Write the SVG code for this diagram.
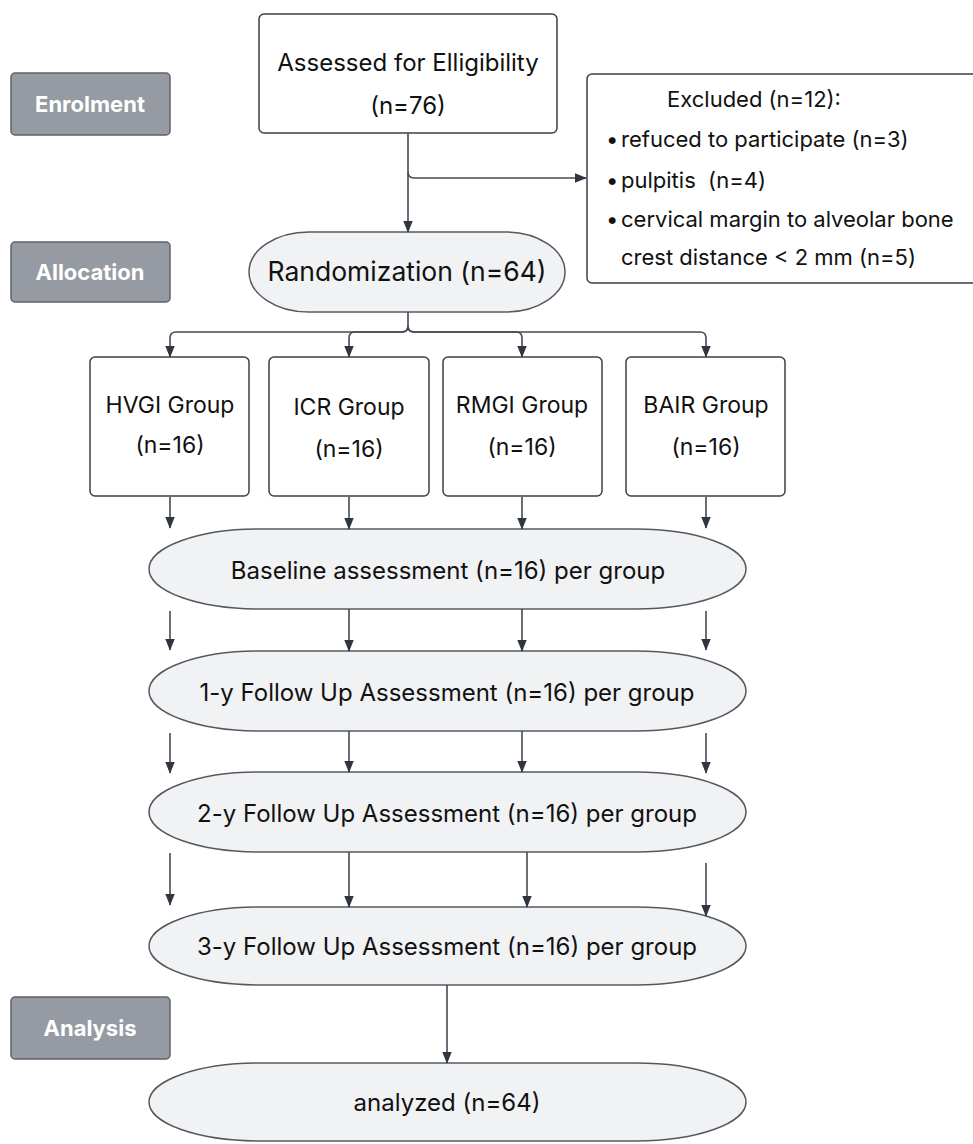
<svg xmlns="http://www.w3.org/2000/svg" width="973" height="1144" viewBox="0 0 973 1144">
<defs>
<marker id="ah" markerUnits="userSpaceOnUse" markerWidth="12" markerHeight="16" refX="14" refY="6" orient="auto" viewBox="0 0 15 12">
<path d="M0,0 L15,6 L0,12 Z" fill="#2f3640"/>
</marker>
<style>
.t{font-family:Inter,"Liberation Sans",sans-serif;fill:#111111;}
.lab rect{fill:#969ba3;stroke:#5d6269;stroke-width:1.5;}
.lab text{font-family:Inter,"Liberation Sans",sans-serif;font-weight:700;fill:#ffffff;font-size:22px;}
.box{fill:#ffffff;stroke:#3d3f43;stroke-width:1.5;}
.pill{fill:#f1f2f4;stroke:#55595f;stroke-width:1.5;}
.c{fill:none;stroke:#454a52;stroke-width:1.6;}
</style>
</defs>
<rect width="973" height="1144" fill="#ffffff"/>

<g id="label-enrolment" class="lab"><rect x="11" y="73" width="159" height="62" rx="4"/><text x="90" y="112" text-anchor="middle">Enrolment</text></g>
<g id="label-allocation" class="lab"><rect x="11" y="242" width="159" height="60" rx="4"/><text x="90" y="280" text-anchor="middle">Allocation</text></g>
<g id="label-analysis" class="lab"><rect x="11" y="997" width="159" height="62" rx="4"/><text x="90" y="1036" text-anchor="middle">Analysis</text></g>

<g id="assessed"><rect class="box" x="259" y="14" width="298" height="119" rx="5"/>
<text class="t" x="408" y="71" text-anchor="middle" font-size="24">Assessed for Elligibility</text>
<text class="t" x="408" y="114" text-anchor="middle" font-size="24">(n=76)</text></g>

<g id="excluded"><rect class="box" x="587" y="74" width="400" height="209" rx="5"/>
<text class="t" x="667" y="107" font-size="22">Excluded (n=12):</text>
<text class="t" y="147" font-size="22"><tspan x="606">•</tspan><tspan x="621">refuced to participate (n=3)</tspan></text>
<text class="t" y="188" font-size="22"><tspan x="606">•</tspan><tspan x="621">pulpitis&#160; (n=4)</tspan></text>
<text class="t" y="227" font-size="22"><tspan x="606">•</tspan><tspan x="621">cervical margin to alveolar bone</tspan></text>
<text class="t" x="621" y="265" font-size="22">crest distance &lt; 2 mm (n=5)</text></g>

<g id="randomization"><rect class="pill" x="249" y="232" width="316" height="80" rx="60" ry="40"/>
<text class="t" x="407" y="281" text-anchor="middle" font-size="26.5">Randomization (n=64)</text></g>

<g id="hvgi"><rect class="box" x="90" y="357" width="159" height="139" rx="5"/>
<text class="t" x="170" y="413" text-anchor="middle" font-size="23">HVGI Group</text>
<text class="t" x="170" y="453" text-anchor="middle" font-size="23">(n=16)</text></g>
<g id="icr"><rect class="box" x="269" y="357" width="160" height="139" rx="5"/>
<text class="t" x="349" y="415" text-anchor="middle" font-size="23">ICR Group</text>
<text class="t" x="349" y="457" text-anchor="middle" font-size="23">(n=16)</text></g>
<g id="rmgi"><rect class="box" x="443" y="357" width="159" height="139" rx="5"/>
<text class="t" x="522" y="413" text-anchor="middle" font-size="23">RMGI Group</text>
<text class="t" x="522" y="455" text-anchor="middle" font-size="23">(n=16)</text></g>
<g id="bair"><rect class="box" x="626" y="357" width="159" height="139" rx="5"/>
<text class="t" x="706" y="413" text-anchor="middle" font-size="23">BAIR Group</text>
<text class="t" x="706" y="455" text-anchor="middle" font-size="23">(n=16)</text></g>

<g id="baseline"><rect class="pill" x="149" y="529" width="597" height="80" rx="110" ry="40"/>
<text class="t" x="448" y="579" text-anchor="middle" font-size="24">Baseline assessment (n=16) per group</text></g>
<g id="fu1"><rect class="pill" x="149" y="651" width="597" height="80" rx="110" ry="40"/>
<text class="t" x="447" y="701" text-anchor="middle" font-size="24">1-y Follow Up Assessment (n=16) per group</text></g>
<g id="fu2"><rect class="pill" x="149" y="772" width="597" height="80" rx="110" ry="40"/>
<text class="t" x="447" y="822" text-anchor="middle" font-size="24">2-y Follow Up Assessment (n=16) per group</text></g>
<g id="fu3"><rect class="pill" x="149" y="907" width="597" height="78" rx="110" ry="39"/>
<text class="t" x="447" y="955" text-anchor="middle" font-size="24">3-y Follow Up Assessment (n=16) per group</text></g>
<g id="analyzed"><rect class="pill" x="149" y="1063" width="597" height="78" rx="110" ry="39"/>
<text class="t" x="447" y="1111" text-anchor="middle" font-size="24">analyzed (n=64)</text></g>

<g id="connectors" class="c">
<path class="c" d="M408,133 V232" marker-end="url(#ah)"/>
<path class="c" d="M408,172 Q408,178 414,178 H586" marker-end="url(#ah)"/>
<path class="c" d="M408,312 V326 Q408,332 402,332 H176 Q170,332 170,338 V357" marker-end="url(#ah)"/>
<path class="c" d="M408,326 Q408,332 402,332 H355 Q349,332 349,338 V357" marker-end="url(#ah)"/>
<path class="c" d="M408,326 Q408,332 414,332 H516 Q522,332 522,338 V357" marker-end="url(#ah)"/>
<path class="c" d="M408,326 Q408,332 414,332 H700 Q706,332 706,338 V357" marker-end="url(#ah)"/>
<path class="c" d="M170,497 V528" marker-end="url(#ah)"/>
<path class="c" d="M349,497 V529" marker-end="url(#ah)"/>
<path class="c" d="M522,497 V529" marker-end="url(#ah)"/>
<path class="c" d="M706,497 V528" marker-end="url(#ah)"/>
<path class="c" d="M170,611 V650" marker-end="url(#ah)"/>
<path class="c" d="M349,609 V651" marker-end="url(#ah)"/>
<path class="c" d="M522,609 V651" marker-end="url(#ah)"/>
<path class="c" d="M706,611 V650" marker-end="url(#ah)"/>
<path class="c" d="M170,733 V773" marker-end="url(#ah)"/>
<path class="c" d="M349,731 V772" marker-end="url(#ah)"/>
<path class="c" d="M522,731 V772" marker-end="url(#ah)"/>
<path class="c" d="M706,733 V773" marker-end="url(#ah)"/>
<path class="c" d="M170,853 V905" marker-end="url(#ah)"/>
<path class="c" d="M349,852 V907" marker-end="url(#ah)"/>
<path class="c" d="M527,852 V907" marker-end="url(#ah)"/>
<path class="c" d="M706,863 V916" marker-end="url(#ah)"/>
<path class="c" d="M447,985 V1063" marker-end="url(#ah)"/>
</g>
</svg>
